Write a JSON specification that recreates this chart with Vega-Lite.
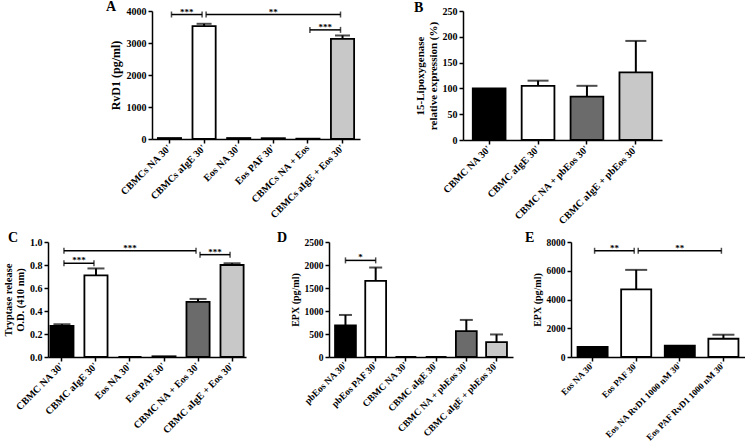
{
  "$schema": "https://vega.github.io/schema/vega-lite/v6.json",
  "background": "white",
  "padding": {"left": 3, "top": 0, "right": 0, "bottom": 0},
  "config": {
    "view": {"stroke": null},
    "font": "Liberation Serif",
    "title": {"font": "Liberation Serif", "fontSize": 14, "fontWeight": "bold", "color": "black", "anchor": "start", "frame": "bounds", "offset": 0},
    "axis": {"grid": false, "domainColor": "black", "domainWidth": 1.5, "tickColor": "black", "tickWidth": 1.5, "tickSize": 4, "labelOverlap": false,
             "labelFont": "Liberation Serif", "labelFontWeight": "bold", "labelColor": "black", "labelFontSize": 10,
             "titleFont": "Liberation Serif", "titleFontWeight": "bold", "titleColor": "black", "titleFontSize": 11, "titlePadding": 4, "labelPadding": 2},
    "axisX": {"labelAngle": -45, "labelAlign": "right", "labelBaseline": "middle", "labelPadding": 3, "title": null}
  },
  "datasets": {
    "A": [
      {"label": "CBMCs NA 30'", "value": 30, "upper": null, "group": "unstimulated"},
      {"label": "CBMCs aIgE 30'", "value": 3530, "upper": 3600, "group": "stimulated"},
      {"label": "Eos NA 30'", "value": 30, "upper": null, "group": "unstimulated"},
      {"label": "Eos PAF 30'", "value": 25, "upper": null, "group": "stimulated"},
      {"label": "CBMCs NA + Eos", "value": 10, "upper": null, "group": "co-culture"},
      {"label": "CBMCs aIgE + Eos 30'", "value": 3130, "upper": 3235, "group": "stimulated co-culture"}
    ],
    "A_sig": [
      {"id": 1, "from": 0, "to": 1, "y": 3890, "stars": "***"},
      {"id": 2, "from": 1, "to": 5, "y": 3890, "stars": "**"},
      {"id": 3, "from": 4, "to": 5, "y": 3410, "stars": "***"}
    ],
    "B": [
      {"label": "CBMC NA 30'", "value": 100, "upper": null, "group": "unstimulated"},
      {"label": "CBMC aIgE 30'", "value": 105, "upper": 115, "group": "stimulated"},
      {"label": "CBMC NA + pbEos 30'", "value": 84, "upper": 105, "group": "co-culture"},
      {"label": "CBMC aIgE + pbEos 30'", "value": 131, "upper": 192, "group": "stimulated co-culture"}
    ],
    "C": [
      {"label": "CBMC NA 30'", "value": 0.27, "upper": 0.285, "group": "unstimulated"},
      {"label": "CBMC aIgE 30'", "value": 0.71, "upper": 0.77, "group": "stimulated"},
      {"label": "Eos NA 30'", "value": 0, "upper": null, "group": "unstimulated"},
      {"label": "Eos PAF 30'", "value": 0.006, "upper": null, "group": "stimulated"},
      {"label": "CBMC NA + Eos 30'", "value": 0.48, "upper": 0.505, "group": "co-culture"},
      {"label": "CBMC aIgE + Eos 30'", "value": 0.8, "upper": 0.815, "group": "stimulated co-culture"}
    ],
    "C_sig": [
      {"id": 1, "from": 0, "to": 1, "y": 0.815, "stars": "***"},
      {"id": 2, "from": 0, "to": 4, "y": 0.923, "stars": "***"},
      {"id": 3, "from": 4, "to": 5, "y": 0.89, "stars": "***"}
    ],
    "D": [
      {"label": "pbEos NA 30'", "value": 685, "upper": 914, "group": "unstimulated"},
      {"label": "pbEos PAF 30'", "value": 1655, "upper": 1945, "group": "stimulated"},
      {"label": "CBMC NA 30'", "value": 0, "upper": null, "group": "unstimulated"},
      {"label": "CBMC aIgE 30'", "value": 0, "upper": null, "group": "stimulated"},
      {"label": "CBMC NA + pbEos 30'", "value": 562, "upper": 806, "group": "co-culture"},
      {"label": "CBMC aIgE + pbEos 30'", "value": 324, "upper": 490, "group": "stimulated co-culture"}
    ],
    "D_sig": [
      {"id": 1, "from": 0, "to": 1, "y": 2100, "stars": "*"}
    ],
    "E": [
      {"label": "Eos NA 30'", "value": 700, "upper": null, "group": "unstimulated"},
      {"label": "Eos PAF 30'", "value": 4700, "upper": 6060, "group": "stimulated"},
      {"label": "Eos NA RvD1 1000 nM 30'", "value": 790, "upper": null, "group": "unstimulated"},
      {"label": "Eos PAF RvD1 1000 nM 30'", "value": 1270, "upper": 1550, "group": "stimulated"}
    ],
    "E_sig": [
      {"id": 1, "from": 0, "to": 1, "y": 7390, "stars": "**"},
      {"id": 2, "from": 1, "to": 3, "y": 7390, "stars": "**"}
    ]
  },
  "vconcat": [
    {
      "hconcat": [
        {"width": 1, "height": 1, "data": {"values": [{}]}, "mark": {"type": "point", "opacity": 0}, "encoding": {}},
        {
          "width": 208, "height": 128,
          "title": {"text": "A", "dx": -3, "offset": -8},
          "resolve": {"scale": {"x": "independent"}},
          "layer": [
            {
              "data": {"name": "A"},
              "encoding": {"x": {"field": "label", "type": "nominal", "sort": null, "scale": {"paddingInner": 0.33, "paddingOuter": 0.17}}},
              "layer": [
                {"mark": {"type": "bar", "stroke": "black", "strokeWidth": 1.8},
                 "encoding": {
                   "y": {"field": "value", "type": "quantitative", "scale": {"domain": [0, 4000], "nice": false}, "axis": {"title": "RvD1 (pg/ml)", "titleFontSize": 12, "values": [0, 1000, 2000, 3000, 4000], "tickCount": 20, "format": "d", "labelOverlap": false}},
                   "fill": {"field": "group", "type": "nominal", "scale": {"domain": ["unstimulated", "stimulated", "co-culture", "stimulated co-culture"], "range": ["#000000", "#ffffff", "#6b6b6b", "#c8c8c8"]}, "legend": null}}},
                {"transform": [{"filter": "isValid(datum.upper)"}], "mark": {"type": "rule", "strokeWidth": 2, "color": "black"},
                 "encoding": {"y": {"field": "value", "type": "quantitative"}, "y2": {"field": "upper"}}},
                {"transform": [{"filter": "isValid(datum.upper)"}], "mark": {"type": "tick", "orient": "horizontal", "size": 15, "thickness": 2, "color": "black"},
                 "encoding": {"y": {"field": "upper", "type": "quantitative"}}}
              ]
            },
            {
              "data": {"name": "A_sig"},
              "encoding": {"y": {"field": "y", "type": "quantitative", "axis": {"title": "RvD1 (pg/ml)", "values": [0, 1000, 2000, 3000, 4000], "tickCount": 20, "format": "d", "labelOverlap": false}}},
              "layer": [
                {"mark": {"type": "rule", "strokeWidth": 1.5, "color": "black", "xOffset": 2, "x2Offset": -2},
                 "encoding": {"x": {"field": "from", "type": "quantitative", "scale": {"domain": [-0.505, 5.505], "nice": false, "zero": false}, "axis": null}, "x2": {"field": "to"}}},
                {"mark": {"type": "tick", "orient": "vertical", "size": 6, "thickness": 1.5, "color": "black", "xOffset": 2},
                 "encoding": {"x": {"field": "from", "type": "quantitative", "scale": {"domain": [-0.505, 5.505], "nice": false, "zero": false}, "axis": null}}},
                {"mark": {"type": "tick", "orient": "vertical", "size": 6, "thickness": 1.5, "color": "black", "xOffset": -2},
                 "encoding": {"x": {"field": "to", "type": "quantitative", "scale": {"domain": [-0.505, 5.505], "nice": false, "zero": false}, "axis": null}}},
                {"transform": [{"fold": ["from", "to"], "as": ["end", "pos"]}, {"aggregate": [{"op": "mean", "field": "pos", "as": "mid"}], "groupby": ["id", "y", "stars"]}],
                 "mark": {"type": "text", "font": "Liberation Serif", "fontSize": 9, "fontWeight": "bold", "baseline": "alphabetic", "color": "black"},
                 "encoding": {"x": {"field": "mid", "type": "quantitative", "scale": {"domain": [-0.505, 5.505], "nice": false, "zero": false}, "axis": null}, "text": {"field": "stars"}}}
              ]
            }
          ]
        },
        {
          "width": 199, "height": 129,
          "title": {"text": "B", "offset": -9},
          "data": {"name": "B"},
          "encoding": {"x": {"field": "label", "type": "nominal", "sort": null, "scale": {"paddingInner": 0.33, "paddingOuter": 0.2}}},
          "layer": [
            {"mark": {"type": "bar", "stroke": "black", "strokeWidth": 1.8},
             "encoding": {
               "y": {"field": "value", "type": "quantitative", "scale": {"domain": [0, 250], "nice": false}, "axis": {"title": ["15-Lipoxygenase", "relative expression (%)"], "titleFontSize": 11, "values": [0, 50, 100, 150, 200, 250], "tickCount": 20, "format": "d", "labelOverlap": false}},
               "fill": {"field": "group", "type": "nominal", "legend": null}}},
            {"transform": [{"filter": "isValid(datum.upper)"}], "mark": {"type": "rule", "strokeWidth": 2, "color": "black"},
             "encoding": {"y": {"field": "value", "type": "quantitative"}, "y2": {"field": "upper"}}},
            {"transform": [{"filter": "isValid(datum.upper)"}], "mark": {"type": "tick", "orient": "horizontal", "size": 21, "thickness": 2, "color": "black"},
             "encoding": {"y": {"field": "upper", "type": "quantitative"}}}
          ]
        }
      ],
      "spacing": 54
    },
    {
      "hconcat": [
        {
          "width": 198, "height": 115,
          "title": {"text": "C", "dx": 5, "offset": -8},
          "resolve": {"scale": {"x": "independent"}},
          "layer": [
            {
              "data": {"name": "C"},
              "encoding": {"x": {"field": "label", "type": "nominal", "sort": null, "scale": {"paddingInner": 0.32, "paddingOuter": 0.07}}},
              "layer": [
                {"mark": {"type": "bar", "stroke": "black", "strokeWidth": 1.8},
                 "encoding": {
                   "y": {"field": "value", "type": "quantitative", "scale": {"domain": [0, 1], "nice": false}, "axis": {"title": ["Tryptase release", "O.D. (410 nm)"], "titleFontSize": 10.5, "values": [0, 0.2, 0.4, 0.6, 0.8, 1], "tickCount": 20, "format": ".1f", "labelOverlap": false}},
                   "fill": {"field": "group", "type": "nominal", "legend": null}}},
                {"transform": [{"filter": "isValid(datum.upper)"}], "mark": {"type": "rule", "strokeWidth": 2, "color": "black"},
                 "encoding": {"y": {"field": "value", "type": "quantitative"}, "y2": {"field": "upper"}}},
                {"transform": [{"filter": "isValid(datum.upper)"}], "mark": {"type": "tick", "orient": "horizontal", "size": 17, "thickness": 2, "color": "black"},
                 "encoding": {"y": {"field": "upper", "type": "quantitative"}}}
              ]
            },
            {
              "data": {"name": "C_sig"},
              "encoding": {"y": {"field": "y", "type": "quantitative", "axis": {"title": ["Tryptase release", "O.D. (410 nm)"], "values": [0, 0.2, 0.4, 0.6, 0.8, 1], "tickCount": 20, "format": ".1f", "labelOverlap": false}}},
              "layer": [
                {"mark": {"type": "rule", "strokeWidth": 1.5, "color": "black", "xOffset": 2, "x2Offset": -2},
                 "encoding": {"x": {"field": "from", "type": "quantitative", "scale": {"domain": [-0.41, 5.41], "nice": false, "zero": false}, "axis": null}, "x2": {"field": "to"}}},
                {"mark": {"type": "tick", "orient": "vertical", "size": 6, "thickness": 1.5, "color": "black", "xOffset": 2},
                 "encoding": {"x": {"field": "from", "type": "quantitative", "scale": {"domain": [-0.41, 5.41], "nice": false, "zero": false}, "axis": null}}},
                {"mark": {"type": "tick", "orient": "vertical", "size": 6, "thickness": 1.5, "color": "black", "xOffset": -2},
                 "encoding": {"x": {"field": "to", "type": "quantitative", "scale": {"domain": [-0.41, 5.41], "nice": false, "zero": false}, "axis": null}}},
                {"transform": [{"fold": ["from", "to"], "as": ["end", "pos"]}, {"aggregate": [{"op": "mean", "field": "pos", "as": "mid"}], "groupby": ["id", "y", "stars"]}],
                 "mark": {"type": "text", "font": "Liberation Serif", "fontSize": 9, "fontWeight": "bold", "baseline": "alphabetic", "color": "black"},
                 "encoding": {"x": {"field": "mid", "type": "quantitative", "scale": {"domain": [-0.41, 5.41], "nice": false, "zero": false}, "axis": null}, "text": {"field": "stars"}}}
              ]
            }
          ]
        },
        {
          "hconcat": [
            {
              "width": 184, "height": 115,
              "title": {"text": "D", "dx": -13, "offset": -8},
              "resolve": {"scale": {"x": "independent"}},
              "layer": [
                {
                  "data": {"name": "D"},
                  "encoding": {"x": {"field": "label", "type": "nominal", "sort": null, "scale": {"paddingInner": 0.31, "paddingOuter": 0.2}, "axis": {"labelFontSize": 9.5, "labelPadding": 2}}},
                  "layer": [
                    {"mark": {"type": "bar", "stroke": "black", "strokeWidth": 1.8},
                     "encoding": {
                       "y": {"field": "value", "type": "quantitative", "scale": {"domain": [0, 2500], "nice": false}, "axis": {"title": "EPX (pg/ml)", "titleFontSize": 10, "labelFontSize": 9.5, "values": [0, 500, 1000, 1500, 2000, 2500], "tickCount": 20, "format": "d", "labelOverlap": false}},
                       "fill": {"field": "group", "type": "nominal", "legend": null}}},
                    {"transform": [{"filter": "isValid(datum.upper)"}], "mark": {"type": "rule", "strokeWidth": 2, "color": "black"},
                     "encoding": {"y": {"field": "value", "type": "quantitative"}, "y2": {"field": "upper"}}},
                    {"transform": [{"filter": "isValid(datum.upper)"}], "mark": {"type": "tick", "orient": "horizontal", "size": 13, "thickness": 2, "color": "black"},
                     "encoding": {"y": {"field": "upper", "type": "quantitative"}}}
                  ]
                },
                {
                  "data": {"name": "D_sig"},
                  "encoding": {"y": {"field": "y", "type": "quantitative", "axis": {"title": "EPX (pg/ml)", "values": [0, 500, 1000, 1500, 2000, 2500], "tickCount": 20, "format": "d", "labelOverlap": false}}},
                  "layer": [
                    {"mark": {"type": "rule", "strokeWidth": 1.5, "color": "black"},
                     "encoding": {"x": {"field": "from", "type": "quantitative", "scale": {"domain": [-0.545, 5.545], "nice": false, "zero": false}, "axis": null}, "x2": {"field": "to"}}},
                    {"mark": {"type": "tick", "orient": "vertical", "size": 6, "thickness": 1.5, "color": "black"},
                     "encoding": {"x": {"field": "from", "type": "quantitative", "scale": {"domain": [-0.545, 5.545], "nice": false, "zero": false}, "axis": null}}},
                    {"mark": {"type": "tick", "orient": "vertical", "size": 6, "thickness": 1.5, "color": "black"},
                     "encoding": {"x": {"field": "to", "type": "quantitative", "scale": {"domain": [-0.545, 5.545], "nice": false, "zero": false}, "axis": null}}},
                    {"transform": [{"fold": ["from", "to"], "as": ["end", "pos"]}, {"aggregate": [{"op": "mean", "field": "pos", "as": "mid"}], "groupby": ["id", "y", "stars"]}],
                     "mark": {"type": "text", "font": "Liberation Serif", "fontSize": 9, "fontWeight": "bold", "baseline": "alphabetic", "color": "black"},
                     "encoding": {"x": {"field": "mid", "type": "quantitative", "scale": {"domain": [-0.545, 5.545], "nice": false, "zero": false}, "axis": null}, "text": {"field": "stars"}}}
                  ]
                }
              ]
            },
            {
              "width": 174, "height": 115,
              "title": {"text": "E", "dx": -7, "offset": -8},
              "resolve": {"scale": {"x": "independent"}},
              "layer": [
                {
                  "data": {"name": "E"},
                  "encoding": {"x": {"field": "label", "type": "nominal", "sort": null, "scale": {"paddingInner": 0.31, "paddingOuter": 0.15}, "axis": {"labelFontSize": 9, "labelPadding": 2}}},
                  "layer": [
                    {"mark": {"type": "bar", "stroke": "black", "strokeWidth": 1.8},
                     "encoding": {
                       "y": {"field": "value", "type": "quantitative", "scale": {"domain": [0, 8000], "nice": false}, "axis": {"title": "EPX (pg/ml)", "titleFontSize": 10, "labelFontSize": 9.5, "values": [0, 2000, 4000, 6000, 8000], "tickCount": 20, "format": "d", "labelOverlap": false}},
                       "fill": {"field": "group", "type": "nominal", "legend": null}}},
                    {"transform": [{"filter": "isValid(datum.upper)"}], "mark": {"type": "rule", "strokeWidth": 2, "color": "black"},
                     "encoding": {"y": {"field": "value", "type": "quantitative"}, "y2": {"field": "upper"}}},
                    {"transform": [{"filter": "isValid(datum.upper)"}], "mark": {"type": "tick", "orient": "horizontal", "size": 22, "thickness": 2, "color": "black"},
                     "encoding": {"y": {"field": "upper", "type": "quantitative"}}}
                  ]
                },
                {
                  "data": {"name": "E_sig"},
                  "encoding": {"y": {"field": "y", "type": "quantitative", "axis": {"title": "EPX (pg/ml)", "values": [0, 2000, 4000, 6000, 8000], "tickCount": 20, "format": "d", "labelOverlap": false}}},
                  "layer": [
                    {"mark": {"type": "rule", "strokeWidth": 1.5, "color": "black", "xOffset": 2, "x2Offset": -2},
                     "encoding": {"x": {"field": "from", "type": "quantitative", "scale": {"domain": [-0.495, 3.495], "nice": false, "zero": false}, "axis": null}, "x2": {"field": "to"}}},
                    {"mark": {"type": "tick", "orient": "vertical", "size": 6, "thickness": 1.5, "color": "black", "xOffset": 2},
                     "encoding": {"x": {"field": "from", "type": "quantitative", "scale": {"domain": [-0.495, 3.495], "nice": false, "zero": false}, "axis": null}}},
                    {"mark": {"type": "tick", "orient": "vertical", "size": 6, "thickness": 1.5, "color": "black", "xOffset": -2},
                     "encoding": {"x": {"field": "to", "type": "quantitative", "scale": {"domain": [-0.495, 3.495], "nice": false, "zero": false}, "axis": null}}},
                    {"transform": [{"fold": ["from", "to"], "as": ["end", "pos"]}, {"aggregate": [{"op": "mean", "field": "pos", "as": "mid"}], "groupby": ["id", "y", "stars"]}],
                     "mark": {"type": "text", "font": "Liberation Serif", "fontSize": 9, "fontWeight": "bold", "baseline": "alphabetic", "color": "black"},
                     "encoding": {"x": {"field": "mid", "type": "quantitative", "scale": {"domain": [-0.495, 3.495], "nice": false, "zero": false}, "axis": null}, "text": {"field": "stars"}}}
                  ]
                }
              ]
            }
          ],
          "spacing": 12
        }
      ],
      "spacing": 31
    }
  ],
  "spacing": 5
}
